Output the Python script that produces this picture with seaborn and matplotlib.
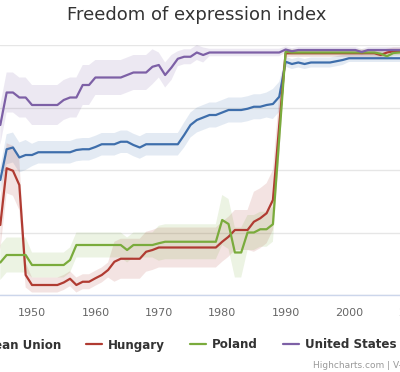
import matplotlib
matplotlib.use("Agg")
import matplotlib.pyplot as plt
from matplotlib.lines import Line2D
import pandas as pd
import seaborn as sns

# years shown on the chart
years = list(range(1945, 2011))

# index values (one value per year, 1945-2010)
eu = [0.46, 0.583, 0.59, 0.55, 0.56,
      0.56, 0.571, 0.571, 0.571, 0.571,
      0.571, 0.571, 0.58, 0.583, 0.583,
      0.592, 0.603, 0.603, 0.603, 0.613,
      0.613, 0.60, 0.59, 0.603, 0.603,
      0.603, 0.603, 0.603, 0.603, 0.64,
      0.68, 0.70, 0.71, 0.72, 0.72,
      0.73, 0.74, 0.74, 0.74, 0.745,
      0.753, 0.753, 0.76, 0.764, 0.793,
      0.933, 0.924, 0.93, 0.924, 0.93,
      0.93, 0.93, 0.93, 0.935, 0.94,
      0.947, 0.947, 0.947, 0.947, 0.947,
      0.947, 0.947, 0.947, 0.947, 0.947, 0.947]
hungary = [0.28, 0.507, 0.497, 0.44, 0.08,
           0.04, 0.04, 0.04, 0.04, 0.04,
           0.05, 0.065, 0.04, 0.053, 0.053,
           0.067, 0.08, 0.10, 0.133, 0.145,
           0.145, 0.145, 0.145, 0.173, 0.18,
           0.19, 0.19, 0.19, 0.19, 0.19,
           0.19, 0.19, 0.19, 0.19, 0.19,
           0.213, 0.233, 0.26, 0.26, 0.26,
           0.293, 0.307, 0.327, 0.38, 0.68,
           0.967, 0.967, 0.967, 0.967, 0.967,
           0.967, 0.967, 0.967, 0.967, 0.967,
           0.967, 0.967, 0.967, 0.967, 0.967,
           0.96, 0.97, 0.975, 0.975, 0.975, 0.975]
poland = [0.13, 0.16, 0.16, 0.16, 0.16,
          0.12, 0.12, 0.12, 0.12, 0.12,
          0.12, 0.14, 0.20, 0.20, 0.20,
          0.20, 0.20, 0.20, 0.20, 0.20,
          0.18, 0.20, 0.20, 0.20, 0.20,
          0.207, 0.213, 0.213, 0.213, 0.213,
          0.213, 0.213, 0.213, 0.213, 0.213,
          0.30, 0.284, 0.17, 0.17, 0.25,
          0.25, 0.263, 0.263, 0.283, 0.63,
          0.973, 0.97, 0.97, 0.97, 0.97,
          0.97, 0.97, 0.97, 0.97, 0.97,
          0.97, 0.97, 0.97, 0.97, 0.97,
          0.965, 0.955, 0.968, 0.97, 0.97, 0.97]
usa = [0.68, 0.81, 0.81, 0.79, 0.79,
       0.76, 0.76, 0.76, 0.76, 0.76,
       0.78, 0.79, 0.79, 0.84, 0.84,
       0.87, 0.87, 0.87, 0.87, 0.87,
       0.88, 0.89, 0.89, 0.89, 0.913,
       0.92, 0.88, 0.91, 0.945, 0.953,
       0.953, 0.97, 0.96, 0.97, 0.97,
       0.97, 0.97, 0.97, 0.97, 0.97,
       0.97, 0.97, 0.97, 0.97, 0.97,
       0.982, 0.975, 0.98, 0.98, 0.98,
       0.98, 0.98, 0.98, 0.98, 0.98,
       0.98, 0.98, 0.972, 0.98, 0.98,
       0.98, 0.98, 0.98, 0.98, 0.98, 0.98]

# half-width of the shaded interval around each line
eu_err = [0.05, 0.06, 0.06, 0.06, 0.06,
          0.045, 0.045, 0.045, 0.045, 0.045,
          0.045, 0.045, 0.045, 0.045, 0.045,
          0.045, 0.045, 0.045, 0.045, 0.045,
          0.045, 0.045, 0.045, 0.045, 0.045,
          0.045, 0.045, 0.045, 0.045, 0.05,
          0.05, 0.05, 0.05, 0.05, 0.05,
          0.05, 0.05, 0.05, 0.05, 0.05,
          0.05, 0.05, 0.05, 0.06, 0.06,
          0.02, 0.02, 0.02, 0.02, 0.02,
          0.02, 0.02, 0.02, 0.02, 0.02,
          0.015, 0.015, 0.015, 0.015, 0.015,
          0.015, 0.015, 0.015, 0.015, 0.015, 0.015]
hungary_err = [0.1, 0.1, 0.1, 0.1, 0.05,
               0.03, 0.03, 0.03, 0.03, 0.03,
               0.03, 0.03, 0.03, 0.03, 0.03,
               0.03, 0.03, 0.03, 0.08, 0.08,
               0.08, 0.08, 0.08, 0.08, 0.08,
               0.08, 0.08, 0.08, 0.08, 0.08,
               0.08, 0.08, 0.08, 0.08, 0.08,
               0.08, 0.08, 0.08, 0.08, 0.08,
               0.12, 0.12, 0.12, 0.12, 0.12,
               0.015, 0.015, 0.015, 0.015, 0.015,
               0.015, 0.015, 0.015, 0.015, 0.015,
               0.015, 0.015, 0.015, 0.015, 0.015,
               0.015, 0.015, 0.015, 0.015, 0.015, 0.015]
poland_err = [0.07, 0.07, 0.07, 0.07, 0.07,
              0.05, 0.05, 0.05, 0.05, 0.05,
              0.05, 0.05, 0.05, 0.05, 0.05,
              0.05, 0.05, 0.05, 0.05, 0.05,
              0.05, 0.05, 0.05, 0.05, 0.05,
              0.07, 0.07, 0.07, 0.07, 0.07,
              0.07, 0.07, 0.07, 0.07, 0.07,
              0.1, 0.1, 0.1, 0.1, 0.07,
              0.07, 0.07, 0.07, 0.07, 0.07,
              0.012, 0.012, 0.012, 0.012, 0.012,
              0.012, 0.012, 0.012, 0.012, 0.012,
              0.012, 0.012, 0.012, 0.012, 0.012,
              0.012, 0.012, 0.012, 0.012, 0.012, 0.012]
usa_err = [0.08, 0.08, 0.08, 0.08, 0.08,
           0.08, 0.08, 0.08, 0.08, 0.08,
           0.08, 0.08, 0.08, 0.08, 0.08,
           0.07, 0.07, 0.07, 0.07, 0.07,
           0.07, 0.07, 0.07, 0.07, 0.07,
           0.05, 0.05, 0.05, 0.03, 0.03,
           0.03, 0.03, 0.03, 0.015, 0.015,
           0.015, 0.015, 0.015, 0.015, 0.015,
           0.015, 0.015, 0.015, 0.015, 0.015,
           0.012, 0.012, 0.012, 0.012, 0.012,
           0.012, 0.012, 0.012, 0.012, 0.012,
           0.012, 0.012, 0.012, 0.012, 0.012,
           0.012, 0.012, 0.012, 0.012, 0.012, 0.012]

countries = ["European Union", "Hungary", "Poland", "United States of America"]
colors = {"European Union": "#3e6eab", "Hungary": "#b03b32",
          "Poland": "#7aab3c", "United States of America": "#7d60a6"}

series = {"European Union": (eu, eu_err), "Hungary": (hungary, hungary_err),
          "Poland": (poland, poland_err), "United States of America": (usa, usa_err)}

rows = []
for name in countries:
    for yr, v in zip(years, series[name][0]):
        rows.append({"year": yr, "country": name, "value": v})
df = pd.DataFrame(rows)

sns.set_style("white")
plt.rcParams["font.family"] = ["DejaVu Sans"]

fig = plt.figure(figsize=(4, 3.72), dpi=100)
# plot area is wider than the picture: the original is a crop of a bigger chart
ax = fig.add_axes([0, 77 / 372, 450 / 400, 250 / 372])

# shaded intervals first, lines on top
for name in countries:
    vals, err = series[name]
    lo = [v - e for v, e in zip(vals, err)]
    hi = [v + e for v, e in zip(vals, err)]
    ax.fill_between(years, lo, hi, color=colors[name], alpha=0.14, lw=0, zorder=1)

sns.lineplot(data=df, x="year", y="value", hue="country", hue_order=countries,
             palette=colors, linewidth=1.6, legend=False, ax=ax, zorder=3)

left = 1950 - 32 / 6.34
ax.set_xlim(left, left + 450 / 6.34)
ax.set_ylim(0, 1)
ax.set_yticks([0, 0.25, 0.5, 0.75, 1])
ax.yaxis.grid(True, color="#e6e6e6", lw=1)
ax.set_axisbelow(True)
ax.tick_params(axis="y", length=0, labelleft=False)
ax.set_xticks(range(1950, 2020, 10))
ax.tick_params(axis="x", length=7.2, width=1, color="#ccd6eb", labelcolor="#666666",
               labelsize=8, pad=2)
ax.set_xlabel("")
ax.set_ylabel("")
for s in ["left", "right", "top"]:
    ax.spines[s].set_visible(False)
ax.spines["bottom"].set_color("#ccd6eb")
ax.spines["bottom"].set_linewidth(1)

fig.text(196.5 / 400, 1 - 14.5 / 372, "Freedom of expression index", ha="center",
         va="center", fontsize=13, color="#333333")

handles = [Line2D([], [], color=colors[n], lw=1.6) for n in countries]
leg_y = 1 - 345 / 372
leg = fig.legend(handles, countries, loc="center left", bbox_to_anchor=(0, leg_y),
                 ncol=4, frameon=False, handlelength=1.35, handletextpad=0.5,
                 columnspacing=2.1, prop={"weight": "bold", "size": 8.6})
for t in leg.get_texts():
    t.set_color("#333333")

# shift the legend so "Hungary" starts where it does in the reference
fig.canvas.draw()
hx = leg.get_texts()[1].get_window_extent().x0
leg.set_bbox_to_anchor((0 + (108 - hx) / 400, leg_y), transform=fig.transFigure)

fig.text(313 / 400, 1 - 365 / 372, "Highcharts.com | V-Dem", ha="left", va="center",
         fontsize=6.5, color="#999999")

fig.savefig("out.png", dpi=100)
